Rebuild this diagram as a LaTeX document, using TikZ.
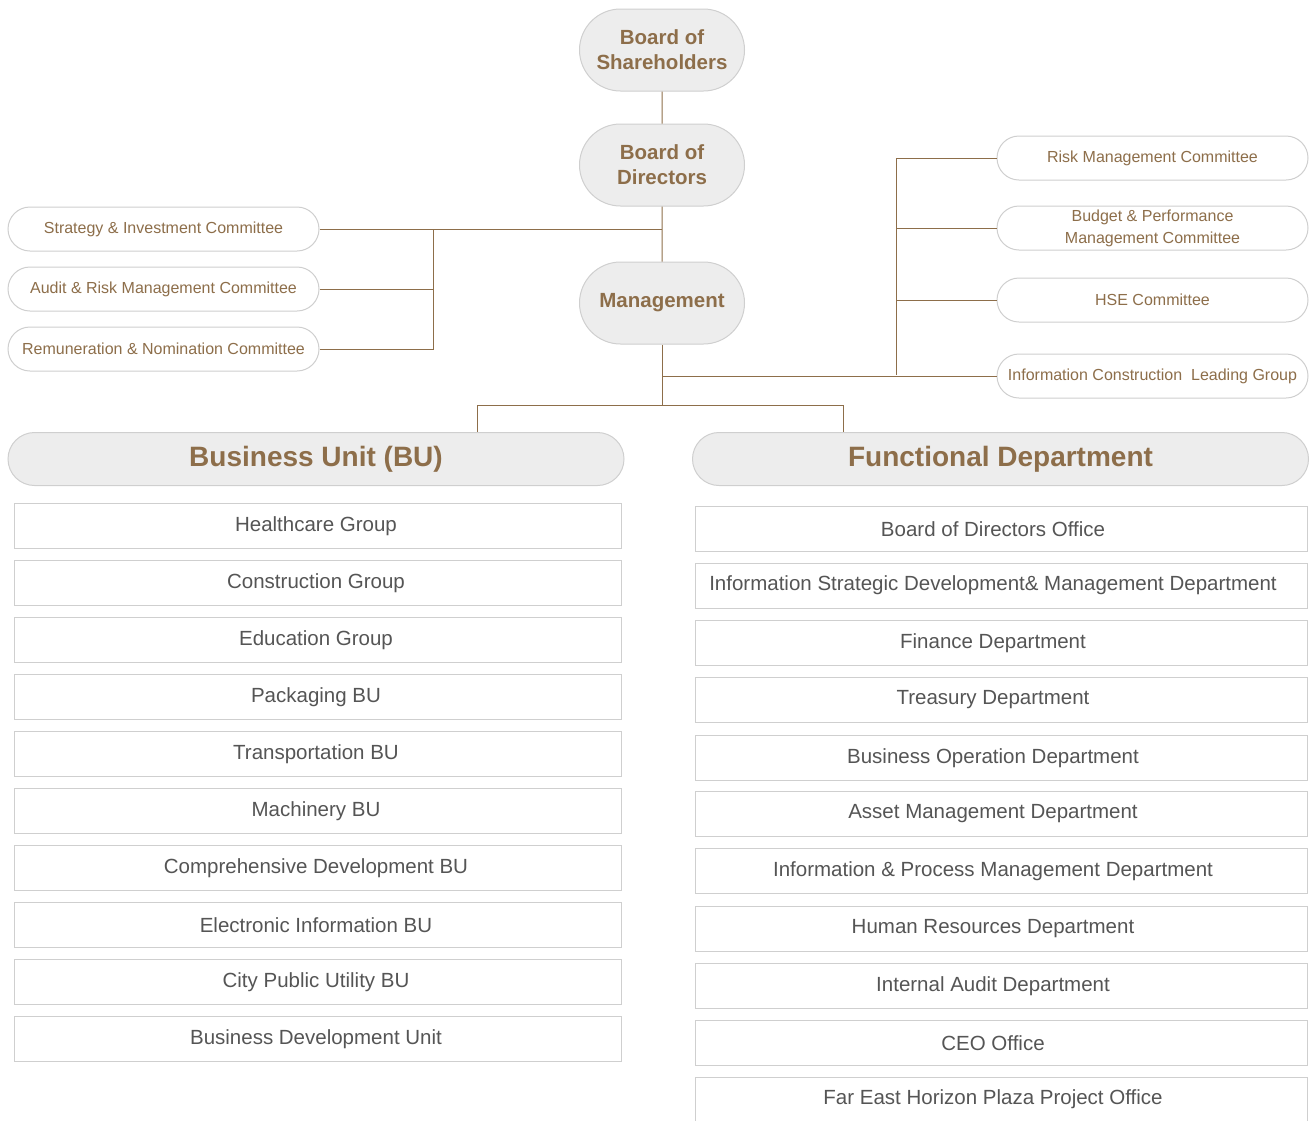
\documentclass[tikz,border=0pt]{standalone}
\usepackage{fontspec}
\setmainfont{Liberation Sans}
\usetikzlibrary{shapes.misc}
\definecolor{brn}{HTML}{8D6E4A}
\definecolor{pillgray}{HTML}{EDEDED}
\definecolor{edgegray}{HTML}{CFCFCF}
\definecolor{txtgray}{HTML}{555555}
\tikzset{
  boardpill/.style={rounded rectangle, draw=edgegray, fill=pillgray, line width=1pt,
    minimum width=165pt, minimum height=82pt, inner sep=0pt, align=center,
    text=brn, font=\fontsize{20.5}{25}\selectfont\bfseries},
  comm/.style={rounded rectangle, draw=edgegray, fill=white, line width=1pt,
    minimum width=311pt, minimum height=44pt, inner sep=0pt, align=center,
    text=brn, font=\fontsize{16}{22}\selectfont},
  grouphead/.style={rounded rectangle, draw=edgegray, fill=pillgray, line width=1pt,
    minimum width=616pt, minimum height=53pt, inner sep=0pt,
    text=brn, font=\fontsize{28}{32}\selectfont\bfseries},
  unitbox/.style={rectangle, draw=edgegray, fill=white, line width=1pt,
    minimum height=45pt, inner sep=0pt, text=txtgray, font=\fontsize{20.5}{24}\selectfont},
  conn/.style={draw=brn, line width=1pt}
}
\begin{document}
\begin{tikzpicture}[x=1pt, y=-1pt]
\useasboundingbox (0,0) rectangle (1313,1120);
% top of the chart
\node[boardpill] (share) at (662,50) {Board of\\Shareholders};
\node[boardpill] (board) at (662,165) {Board of\\Directors};
\node[boardpill] (mgmt) at (662,303) {Management};
% committees
\node[comm] (strat) at (163.5,229) {Strategy \& Investment Committee};
\node[comm] (audit) at (163.5,289) {Audit \& Risk Management Committee};
\node[comm] (remun) at (163.5,349) {Remuneration \& Nomination Committee};
\node[comm] (riskc) at (1152.5,158) {Risk Management Committee};
\node[comm] (budget) at (1152.5,228) {Budget \& Performance\\Management Committee};
\node[comm] (hse) at (1152.5,300) {HSE Committee};
\node[comm] (infoc) at (1152.5,376) {Information Construction\ \ Leading Group};
% the two groups
\node[grouphead] (bu) at (316,459) {Business Unit (BU)};
\node[grouphead] (fd) at (1000.5,459) {Functional Department};
\foreach \name [count=\i] in {Healthcare Group, Construction Group, Education Group,
    Packaging BU, Transportation BU, Machinery BU, Comprehensive Development BU,
    Electronic Information BU, City Public Utility BU, Business Development Unit}
  \node[unitbox, minimum width=607pt] (bu\i) at (317.5,{469+57*\i}) {\hspace*{-3pt}\name};
\foreach \yc/\name [count=\i] in {529/Board of Directors Office,
    585.5/Information Strategic Development\& Management Department,
    643/Finance Department, 700/Treasury Department,
    758/Business Operation Department, 814/Asset Management Department,
    871/Information \& Process Management Department,
    929/Human Resources Department, 986/Internal Audit Department,
    1043/CEO Office, 1099.5/Far East Horizon Plaza Project Office}
  \node[unitbox, minimum width=612pt] (fd\i) at (1001,\yc) {\hspace*{-16pt}\name};
% connectors
\coordinate (lbus) at (433,229);
\coordinate (rbus) at (896,375);
\coordinate (split) at (662,405);
\coordinate (bujoin) at (477,405);
\coordinate (fdjoin) at (843,405);
\draw[conn] (share) -- (board);
\draw[conn] (board) -- (mgmt);
\draw[conn] (strat.east) -- (strat.east -| mgmt);
\draw[conn] (remun.east) -| (lbus);
\draw[conn] (audit.east) -- (audit.east -| lbus);
\draw[conn] (riskc.west) -| (rbus);
\draw[conn] (budget.west) -- (budget.west -| rbus);
\draw[conn] (hse.west) -- (hse.west -| rbus);
\draw[conn] (infoc.west) -- (infoc.west -| mgmt);
\draw[conn] (mgmt) -- (split);
\draw[conn] (bujoin) -- (fdjoin);
\draw[conn] (bujoin) -- (bujoin |- bu.north);
\draw[conn] (fdjoin) -- (fdjoin |- fd.north);
\end{tikzpicture}
\end{document}
